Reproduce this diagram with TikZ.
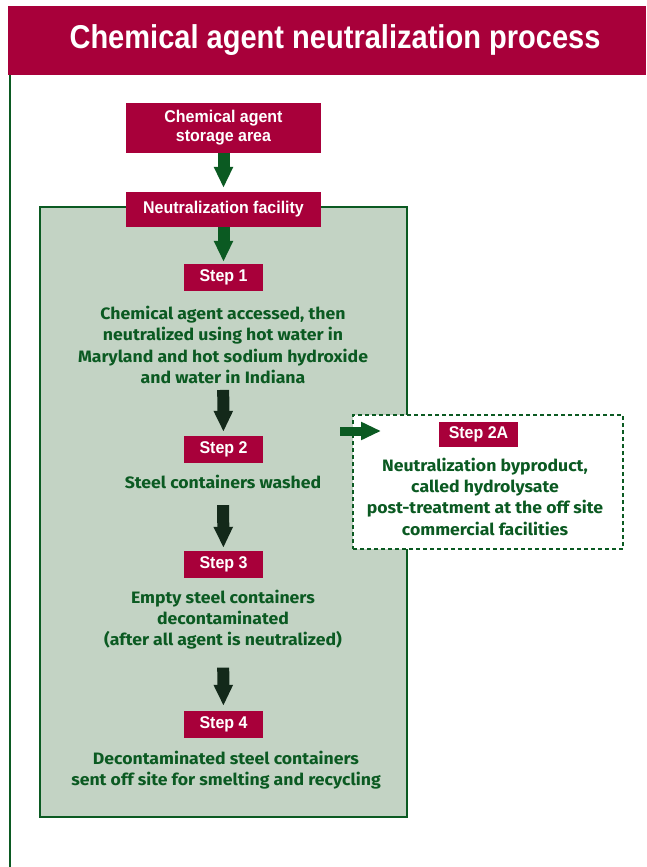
\documentclass[tikz,border=0pt]{standalone}
\usepackage{fontspec}
\setmainfont{Liberation Sans}
\newfontfamily\headfont[FakeStretch=0.88]{Liberation Sans}
\newfontfamily\tagfont[FakeStretch=0.94]{Liberation Sans}
\newfontfamily\bodyfont[FakeStretch=1.07]{Fira Sans}
\usetikzlibrary{arrows.meta}
\definecolor{crimson}{HTML}{A8003A}
\definecolor{leaf}{HTML}{0B5A22}
\definecolor{darkleaf}{HTML}{13291A}
\definecolor{sage}{HTML}{C3D3C4}

\begin{document}
\begin{tikzpicture}[x=1pt,y=-1pt]
    \tikzstyle{tag} = [rectangle, fill=crimson, text=white, align=center, inner sep=0pt, font=\tagfont\bfseries\fontsize{17}{19}\selectfont]
    \tikzstyle{desc} = [text=leaf, align=center, inner sep=0pt, font=\bodyfont\bfseries\fontsize{16.5}{21.3}\selectfont]
    \tikzstyle{arrow} = [draw=leaf, line width=12pt, -{Triangle[length=21pt,width=18pt]}]
    \tikzstyle{darrow} = [arrow, draw=darkleaf]
    \useasboundingbox (0,0) rectangle (646,867);

    % title bar and side rule
    \fill [crimson] (8,6) rectangle (646,75);
    \node (title) [text=white, font=\headfont\bfseries\fontsize{33}{36}\selectfont] at (335,40) {Chemical agent neutralization process};
    \draw [leaf, line width=2.5pt] (10,75) -- (10,867);

    % facility panel
    \draw [fill=sage, draw=leaf, line width=2pt] (40,207) rectangle (407,817);

    \node (storage) [tag, minimum width=195pt, minimum height=50pt] at (223.5,128) {Chemical agent\\ storage area};
    \node (facility) [tag, minimum width=195pt, minimum height=35pt] at (223.5,209.5) {Neutralization facility};

    \node (step1) [tag, minimum width=79pt, minimum height=27pt] at (223.5,277.5) {Step 1};
    \node (access) [desc] at (223,345) {Chemical agent accessed, then\\ neutralized using hot water in\\ Maryland and hot sodium hydroxide\\ and water in Indiana};
    \node (step2) [tag, minimum width=79pt, minimum height=27pt] at (223.5,449.5) {Step 2};
    \node (washed) [desc] at (223,482) {Steel containers washed};
    \node (step3) [tag, minimum width=79pt, minimum height=27pt] at (223.5,564.5) {Step 3};
    \node (decon) [desc] at (223,619.5) {Empty steel containers\\ decontaminated\\ (after all agent is neutralized)};
    \node (step4) [tag, minimum width=79pt, minimum height=27pt] at (223.5,724.5) {Step 4};
    \node (recycle) [desc] at (226,770) {Decontaminated steel containers\\ sent off site for smelting and recycling};

    % off site branch
    \node (byproduct) [rectangle, fill=white, draw=leaf, line width=1.5pt, dash pattern=on 4pt off 3pt, minimum width=270pt, minimum height=134pt] at (488,482) {};
    \node (step2a) [tag, minimum width=79pt, minimum height=25pt] at (478.5,434.5) {Step 2A};
    \node (hydro) [desc] at (485,496.5) {Neutralization byproduct,\\ called hydrolysate\\ post-treatment at the off site\\ commercial facilities};
    \coordinate (feed) at (340,431);
    \coordinate (drop) at (381,431);

    \draw [arrow, shorten >=4pt] (storage) -- (facility);
    \draw [arrow, shorten >=2pt] (facility) -- (step1);
    \draw [darrow, shorten <=6pt, shorten >=4pt] (access) -- (step2);
    \draw [darrow, shorten <=16pt, shorten >=3pt] (washed) -- (step3);
    \draw [darrow, shorten <=18pt, shorten >=5pt] (decon) -- (step4);
    \draw [arrow, line width=9pt, -{Triangle[length=20pt,width=17pt]}] (feed) -- (drop);

\end{tikzpicture}
\end{document}
